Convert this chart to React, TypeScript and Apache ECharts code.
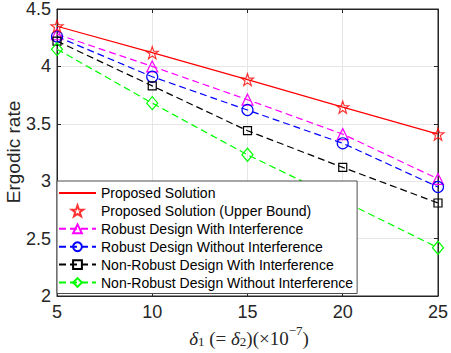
import React, { useEffect, useRef } from "react";
import * as echarts from "echarts";

const xValues = [5, 10, 15, 20, 25];
const proposed = [4.35, 4.12, 3.885, 3.645, 3.41];
const upperBound = [4.35, 4.12, 3.885, 3.645, 3.41];
const robustWith = [4.28, 4.0, 3.71, 3.41, 3.02];
const robustWithout = [4.26, 3.91, 3.62, 3.33, 2.95];
const nonRobustWith = [4.22, 3.83, 3.44, 3.12, 2.81];
const nonRobustWithout = [4.15, 3.68, 3.23, 2.83, 2.42];

const names = [
  "Proposed Solution",
  "Proposed Solution (Upper Bound)",
  "Robust Design With Interference",
  "Robust Design Without Interference",
  "Non-Robust Design With Interference",
  "Non-Robust Design Without Interference",
];

const STAR =
  "path://M0,-10L2.35,-3.24L9.51,-3.09L3.8,1.24L5.88,8.09L0,4L-5.88,8.09L-3.8,1.24L-9.51,-3.09L-2.35,-3.24Z";

const pair = (ys: number[]) => xValues.map((x, i) => [x, ys[i]]);

export default function App() {
  const ref = useRef<HTMLDivElement>(null);
  useEffect(() => {
    if (!ref.current) return;
    const chart = echarts.init(ref.current, null, { renderer: "svg" });
    const axisColor = "#262626";
    const font = "'Liberation Sans', Arial, sans-serif";
    const serif = "'Liberation Serif', 'DejaVu Serif', serif";
    const hollow = (c: string) => ({ color: "rgba(0,0,0,0)", borderColor: c, borderWidth: 1.2 });
    const dashed = (c: string) => ({ color: c, width: 1.2, type: [7, 4] as any });
    chart.setOption({
      animation: false,
      backgroundColor: "#ffffff",
      grid: { left: 57, right: 8, top: 7, bottom: 57, show: true, borderColor: axisColor, borderWidth: 1 },
      xAxis: [
        {
          type: "value", min: 5, max: 25, interval: 5,
          axisLine: { show: true, lineStyle: { color: axisColor } },
          axisTick: { show: true, inside: true, length: 4, lineStyle: { color: axisColor } },
          axisLabel: { color: axisColor, fontSize: 18, fontFamily: font, margin: 7 },
          splitLine: { show: true, lineStyle: { color: "#e6e6e6", width: 1 } },
        },
        {
          type: "value", min: 5, max: 25, interval: 5, position: "top",
          axisLine: { show: true, lineStyle: { color: axisColor } },
          axisTick: { show: true, inside: true, length: 4, lineStyle: { color: axisColor } },
          axisLabel: { show: false }, splitLine: { show: false },
        },
      ],
      yAxis: [
        {
          type: "value", min: 2, max: 4.5, interval: 0.5,
          axisLine: { show: true, lineStyle: { color: axisColor } },
          axisTick: { show: true, inside: true, length: 4, lineStyle: { color: axisColor } },
          axisLabel: { color: axisColor, fontSize: 18, fontFamily: font, margin: 6 },
          splitLine: { show: true, lineStyle: { color: "#e6e6e6", width: 1 } },
        },
        {
          type: "value", min: 2, max: 4.5, interval: 0.5, position: "right",
          axisLine: { show: true, lineStyle: { color: axisColor } },
          axisTick: { show: true, inside: true, length: 4, lineStyle: { color: axisColor } },
          axisLabel: { show: false }, splitLine: { show: false },
        },
      ],
      legend: {
        orient: "vertical",
        left: 57, top: 181,
        data: names,
        backgroundColor: "#ffffff",
        borderColor: "#4d4d4d", borderWidth: 1,
        padding: [5, 4, 4, 1],
        itemGap: 3.9,
        itemWidth: 37, itemHeight: 11,
        textStyle: { color: "#000", fontSize: 14, fontFamily: font },
      },
      graphic: [
        {
          type: "text", x: 13, y: 152, rotation: Math.PI / 2,
          style: { text: "Ergodic rate", fontSize: 19, fontFamily: font, fill: "#262626", textAlign: "center", textVerticalAlign: "middle" },
        },
        {
          type: "text", x: 249, y: 336,
          style: {
            text: "{i|δ}{s|1}{n| (= }{i|δ}{s|2}{n|)(×10}{p|−7}{n|)}",
            fill: "#262626",
            textAlign: "center",
            textVerticalAlign: "middle",
            rich: {
              i: { fontFamily: serif, fontStyle: "italic", fontSize: 19, verticalAlign: "bottom", lineHeight: 24 },
              n: { fontFamily: serif, fontSize: 19, verticalAlign: "bottom", lineHeight: 24 },
              s: { fontFamily: serif, fontSize: 13, verticalAlign: "bottom", lineHeight: 12 },
              p: { fontFamily: serif, fontSize: 13, verticalAlign: "top", lineHeight: 12 },
            },
          },
        },
      ],
      series: [
        {
          name: names[0], type: "line", data: pair(proposed), symbol: "none",
          lineStyle: { color: "#ff0000", width: 1.2 }, itemStyle: { color: "rgba(0,0,0,0)", borderWidth: 0 }, z: 3,
        },
        {
          name: names[1], type: "scatter", data: pair(upperBound), symbol: STAR, symbolSize: 12,
          itemStyle: hollow("#ff0000"), z: 4,
        },
        {
          name: names[2], type: "line", data: pair(robustWith), symbol: "triangle", symbolSize: 11,
          lineStyle: dashed("#ff00ff"), itemStyle: hollow("#ff00ff"),
        },
        {
          name: names[3], type: "line", data: pair(robustWithout), symbol: "circle", symbolSize: 11,
          lineStyle: dashed("#0000ff"), itemStyle: hollow("#0000ff"),
        },
        {
          name: names[4], type: "line", data: pair(nonRobustWith), symbol: "rect", symbolSize: 8,
          lineStyle: dashed("#000000"), itemStyle: hollow("#000000"),
        },
        {
          name: names[5], type: "line", data: pair(nonRobustWithout), symbol: "diamond", symbolSize: [11, 13],
          lineStyle: dashed("#00ff00"), itemStyle: hollow("#00ff00"),
        },
      ],
    });
    return () => chart.dispose();
  }, []);
  return <div ref={ref} style={{ width: 451, height: 353, position: "absolute", left: 0, top: 0 }} />;
}
